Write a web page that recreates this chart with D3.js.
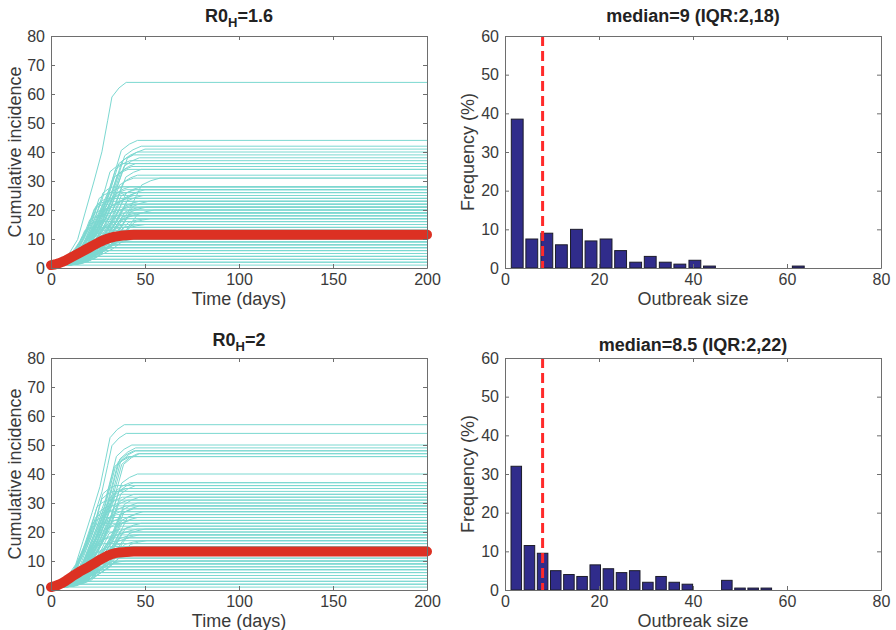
<!DOCTYPE html>
<html>
<head>
<meta charset="utf-8">
<script src="https://cdn.jsdelivr.net/npm/d3@7"></script>
<style>
body { margin: 0; background: #fff; }
svg { font-family: "Liberation Sans", Arial, Helvetica, sans-serif; }
.axis text { font-size: 16px; fill: #3a3a3a; }
.axis path, .axis line { stroke: #6e6e6e; }
</style>
</head>
<body>
<script>
// ---- data ----
var timeTicks = [0, 50, 100, 150, 200];
var incTicks = [0, 10, 20, 30, 40, 50, 60, 70, 80];
var sizeTicks = [0, 20, 40, 60, 80];
var freqTicks = [0, 10, 20, 30, 40, 50, 60];

// shape of one outbreak's rise: [fraction of rise time, fraction of final size]
var riseShape = [[0, 0], [0.15, 0.03], [0.32, 0.14], [0.42, 0.28], [0.55, 0.46], [0.66, 0.62], [0.74, 0.79], [0.8, 0.92], [0.9, 0.97], [1, 1]];

// simulations: [final size, day growth starts, day final size is reached]
var simsTop = [
  [64, 2, 40], [44, 3, 46], [42, 4, 48], [41, 3, 50], [40, 5, 46], [39, 4, 44], [38, 6, 47],
  [37, 4, 42], [36, 6, 45], [35, 5, 43], [34, 7, 48], [34, 4, 41], [32, 8, 46], [31, 6, 44], [31, 9, 58],
  [28, 6, 42], [28, 4, 38], [28, 8, 48], [27, 5, 40], [27, 9, 50], [26, 6, 39], [26, 10, 46],
  [25, 4, 36], [25, 8, 44], [24, 7, 41], [24, 3, 34], [23, 6, 38], [23, 10, 52], [22, 5, 35], [22, 9, 45],
  [21, 4, 33], [21, 8, 42], [20, 6, 36], [20, 10, 55], [19, 3, 31], [19, 7, 40], [18, 5, 34], [18, 9, 44],
  [17, 4, 32], [17, 8, 41], [16, 6, 35], [16, 3, 29], [15, 5, 33], [15, 8, 46], [14, 4, 30], [14, 7, 38],
  [13, 3, 28], [13, 6, 36], [12, 2, 26], [12, 7, 40], [11, 4, 29], [11, 2, 24], [10, 3, 27], [10, 6, 42],
  [9, 2, 25], [9, 5, 34], [8, 2, 22], [8, 4, 30], [7, 2, 20], [7, 4, 28], [6, 1, 18], [6, 3, 26],
  [5, 1, 16], [5, 3, 22], [4, 1, 13], [4, 2, 19], [3, 1, 10], [3, 2, 15], [2, 1, 7], [2, 2, 12], [1, 0, 1],
  [24, 5, 30], [22, 3, 28], [20, 4, 27], [18, 3, 25], [26, 4, 31], [28, 6, 33], [21, 6, 48], [19, 5, 46],
  [17, 6, 50], [15, 3, 40], [13, 5, 44], [11, 5, 38], [23, 3, 29], [16, 5, 24], [14, 2, 22], [12, 4, 45],
  [27, 7, 45], [25, 6, 49], [23, 8, 47], [21, 9, 51], [19, 8, 49], [17, 9, 53], [15, 7, 50], [13, 8, 48],
  [10, 7, 46], [9, 6, 40], [8, 6, 36], [7, 5, 33], [6, 5, 30], [5, 4, 27], [4, 3, 24], [36, 5, 38]
];
var simsBottom = [
  [57, 1, 39], [54, 2, 40], [50, 2, 43], [49, 3, 45], [48, 3, 44], [47, 4, 46], [46, 3, 42], [47, 5, 47],
  [40, 4, 46], [37, 5, 44], [37, 4, 42], [36, 6, 45], [35, 5, 40], [33, 6, 44], [32, 3, 38], [32, 7, 47],
  [31, 5, 41], [30, 4, 36], [30, 8, 46], [29, 6, 40], [28, 3, 34], [28, 7, 44], [27, 5, 37], [26, 4, 35],
  [26, 8, 45], [25, 6, 38], [24, 3, 32], [24, 7, 42], [23, 5, 36], [22, 4, 33], [22, 8, 44], [21, 6, 37],
  [20, 3, 30], [20, 7, 40], [19, 5, 34], [18, 4, 31], [18, 8, 42], [17, 6, 35], [16, 3, 28], [16, 7, 38],
  [15, 5, 32], [14, 4, 29], [14, 7, 37], [13, 2, 25], [13, 6, 34], [12, 4, 28], [11, 2, 23], [11, 5, 31],
  [10, 3, 26], [9, 2, 20], [9, 4, 28], [8, 3, 23], [7, 1, 17], [7, 4, 25], [6, 2, 20], [5, 1, 14], [5, 3, 21],
  [4, 2, 16], [3, 1, 10], [3, 2, 13], [2, 1, 6], [2, 2, 10], [1, 0, 1],
  [34, 3, 33], [31, 2, 30], [29, 3, 31], [27, 2, 29], [25, 3, 27], [23, 2, 26], [21, 4, 46], [19, 3, 44],
  [17, 4, 48], [15, 2, 39], [13, 4, 43], [12, 3, 36], [10, 5, 40], [46, 4, 41], [35, 3, 39], [48, 5, 45],
  [29, 6, 47], [27, 7, 49], [25, 5, 46], [23, 6, 48], [21, 7, 50], [19, 6, 47], [17, 7, 51], [15, 6, 46],
  [12, 6, 44], [10, 4, 36], [9, 5, 34], [8, 4, 30], [7, 3, 28], [6, 4, 26], [36, 2, 34], [33, 4, 37]
];

// mean cumulative incidence (red markers)
var meanDays = [0, 2, 4, 6, 8, 10, 12, 14, 16, 18, 20, 22, 24, 26, 28, 30, 32, 34, 36, 38, 40, 42, 44, 200];
var meanTop = [1, 1.2, 1.6, 2.1, 2.7, 3.4, 4.1, 4.8, 5.5, 6.2, 6.9, 7.6, 8.3, 9.0, 9.6, 10.1, 10.5, 10.8, 11.0, 11.2, 11.3, 11.4, 11.45, 11.5];
var meanBottom = [1, 1.3, 1.8, 2.4, 3.2, 4.1, 5.0, 5.8, 6.6, 7.3, 8.0, 8.8, 9.6, 10.4, 11.1, 11.8, 12.3, 12.7, 12.9, 13.0, 13.1, 13.2, 13.25, 13.3];

// outbreak size histograms (%)
var binsTop = [2.6, 5.7, 8.9, 12.0, 15.2, 18.3, 21.5, 24.6, 27.8, 30.9, 34.1, 37.2, 40.4, 43.5, 46.7, 49.8, 53.0, 56.1, 59.3, 62.4];
var freqTop = [38.5, 7.5, 9, 6, 10, 7, 7.5, 4.5, 1.5, 3, 1.5, 1, 2, 0.5, 0, 0, 0, 0, 0, 0.5];
var binsBottom = [2.4, 5.2, 8.0, 10.8, 13.6, 16.4, 19.2, 22.0, 24.8, 27.6, 30.4, 33.2, 36.0, 38.8, 41.6, 44.4, 47.2, 50.0, 52.8, 55.6];
var freqBottom = [32, 11.5, 9.5, 5, 4, 3.5, 6.5, 5.5, 4.5, 5, 2, 3.5, 2, 1.5, 0, 0, 2.5, 0.5, 0.5, 0.5];
var barWidthTop = 2.52, barWidthBottom = 2.24;
var medianTop = 8, medianBottom = 8;

// ---- layout ----
var pw = 376, ph = 232;

var svg = d3.select("body")
    .append("svg")
    .attr("width", 896)
    .attr("height", 630);

// box with inward ticks on all four sides, labels on bottom and left
function addFrame(g, x, y, xTicks, yTicks) {
    g.append("g")
        .attr("class", "axis")
        .attr("transform", "translate(0," + ph + ")")
        .call(d3.axisBottom(x).tickValues(xTicks).tickSize(-4).tickSizeOuter(0).tickPadding(6));
    g.append("g")
        .attr("class", "axis")
        .call(d3.axisLeft(y).tickValues(yTicks).tickSize(-4).tickSizeOuter(0).tickPadding(6));
    g.append("g")
        .attr("class", "axis")
        .call(d3.axisTop(x).tickValues(xTicks).tickSize(-4).tickSizeOuter(0).tickFormat(""));
    g.append("g")
        .attr("class", "axis")
        .attr("transform", "translate(" + pw + ",0)")
        .call(d3.axisRight(y).tickValues(yTicks).tickSize(-4).tickSizeOuter(0).tickFormat(""));
}

function axisLabels(g, xLabel, yLabel, xOff, yOff) {
    g.append("text")
        .attr("x", pw / 2)
        .attr("y", ph + xOff)
        .attr("text-anchor", "middle")
        .style("font-size", "18px")
        .style("fill", "#3a3a3a")
        .text(xLabel);
    g.append("text")
        .attr("transform", "translate(" + yOff + "," + (ph / 2) + ") rotate(-90)")
        .attr("text-anchor", "middle")
        .style("font-size", "18px")
        .style("fill", "#3a3a3a")
        .text(yLabel);
}

function trajectory(s) {
    var pts = [[0, 1], [s[1], 1]];
    riseShape.forEach(function(p) {
        pts.push([s[1] + p[0] * (s[2] - s[1]), 1 + p[1] * (s[0] - 1)]);
    });
    pts.push([200, s[0]]);
    return pts;
}

function linePanel(left, top, sims, mean, r0, titleOff, id) {
    var x = d3.scaleLinear().domain([0, 200]).range([0, pw]);
    var y = d3.scaleLinear().domain([0, 80]).range([ph, 0]);
    var g = svg.append("g").attr("transform", "translate(" + left + "," + top + ")");

    g.append("clipPath").attr("id", id)
        .append("rect").attr("width", pw).attr("height", ph);

    var line = d3.line()
        .x(function(d) { return x(d[0]); })
        .y(function(d) { return y(d[1]); });

    // every simulated outbreak
    g.append("g")
        .attr("clip-path", "url(#" + id + ")")
        .selectAll("path")
        .data(sims)
        .enter()
        .append("path")
        .attr("d", function(d) { return line(trajectory(d)); })
        .attr("fill", "none")
        .attr("stroke", "#7cd8d1")
        .attr("stroke-width", 1);

    // mean curve, drawn as big overlapping markers
    g.append("path")
        .datum(d3.zip(meanDays, mean))
        .attr("d", line)
        .attr("fill", "none")
        .attr("stroke", "#dc3123")
        .attr("stroke-width", 10)
        .attr("stroke-linecap", "round")
        .attr("stroke-linejoin", "round");

    addFrame(g, x, y, timeTicks, incTicks);
    axisLabels(g, "Time (days)", "Cumulative incidence", 37, -30);

    var t = g.append("text")
        .attr("x", pw / 2)
        .attr("y", titleOff)
        .attr("text-anchor", "middle")
        .style("font-weight", "bold")
        .style("font-size", "18px")
        .style("fill", "#222");
    t.append("tspan").text("R0");
    t.append("tspan").attr("dy", 5).style("font-size", "13px").text("H");
    t.append("tspan").attr("dy", -5).text("=" + r0);
}

function histPanel(left, top, bins, freq, bw, med, title, titleOff) {
    var x = d3.scaleLinear().domain([0, 80]).range([0, pw]);
    var y = d3.scaleLinear().domain([0, 60]).range([ph, 0]);
    var g = svg.append("g").attr("transform", "translate(" + left + "," + top + ")");

    g.selectAll("rect")
        .data(d3.zip(bins, freq))
        .enter()
        .append("rect")
        .attr("x", function(d) { return x(d[0] - bw / 2); })
        .attr("width", x(bw) - x(0))
        .attr("y", function(d) { return y(d[1]); })
        .attr("height", function(d) { return y(0) - y(d[1]); })
        .attr("fill", "#302c8b")
        .attr("stroke", "#1c1c2a")
        .attr("stroke-width", 1);

    // median line
    g.append("line")
        .attr("x1", x(med)).attr("x2", x(med))
        .attr("y1", 0).attr("y2", ph)
        .attr("stroke", "#ff2a2a")
        .attr("stroke-width", 3)
        .attr("stroke-dasharray", "10,5");

    addFrame(g, x, y, sizeTicks, freqTicks);
    axisLabels(g, "Outbreak size", "Frequency (%)", 37, -31);

    g.append("text")
        .attr("x", pw / 2)
        .attr("y", titleOff)
        .attr("text-anchor", "middle")
        .style("font-weight", "bold")
        .style("font-size", "18px")
        .style("fill", "#222")
        .text(title);
}

linePanel(51, 36, simsTop, meanTop, "1.6", -14, "clipTop");
histPanel(505, 36, binsTop, freqTop, barWidthTop, medianTop, "median=9 (IQR:2,18)", -14);
linePanel(51, 358, simsBottom, meanBottom, "2", -12, "clipBottom");
histPanel(505, 358, binsBottom, freqBottom, barWidthBottom, medianBottom, "median=8.5 (IQR:2,22)", -7);
</script>
</body>
</html>
